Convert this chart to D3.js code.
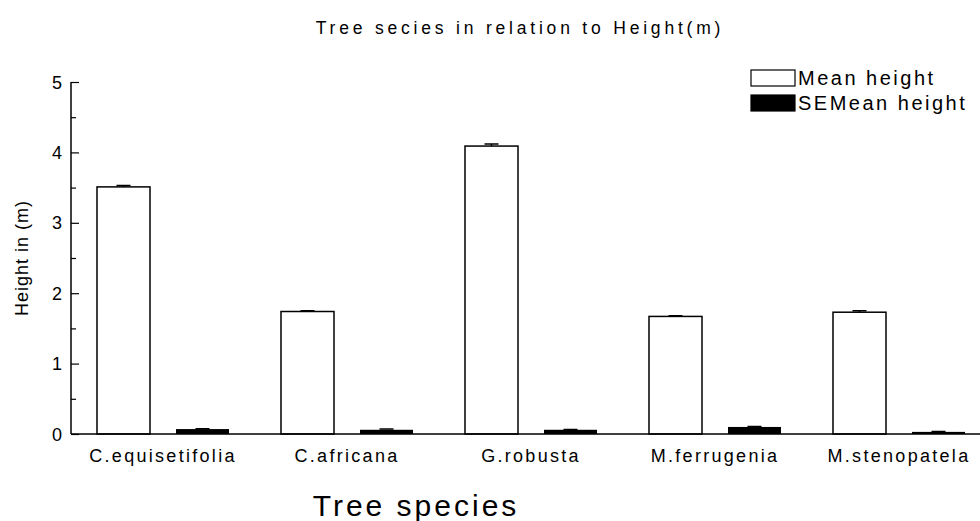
<!DOCTYPE html>
<html>
<head>
	<meta charset="UTF-8">
	<title>Tree species in relation to Height</title>
	<script src="https://cdnjs.cloudflare.com/ajax/libs/d3/7.8.5/d3.min.js"></script>
	<style>
		body { margin: 0; background: #fff; }
		text { font-family: "Liberation Sans", Arial, sans-serif; fill: #000; }
	</style>
</head>
<body>
	<script>
		// data
		var species = ["C.equisetifolia", "C.africana", "G.robusta", "M.ferrugenia", "M.stenopatela"];
		var meanHeight = [3.51, 1.74, 4.09, 1.67, 1.73];
		var seMean = [0.07, 0.06, 0.06, 0.10, 0.03];
		var meanErr = [0.02, 0.01, 0.03, 0.01, 0.02];
		var seErr = [0.005, 0.01, 0.005, 0.005, 0.005];
		var yTicks = [0, 1, 2, 3, 4, 5];
		var yMinor = [0.5, 1.5, 2.5, 3.5, 4.5];
		var series = ["Mean height", "SEMean height"];

		var W = 980, H = 521;
		var plotLeft = 71, plotTop = 82, plotBottom = 434;

		var svg = d3.select("body").append("svg")
			.attr("width", W)
			.attr("height", H);

		// scales: each group reads 26 | 53 | 26 | 53 | 26
		var x = d3.scaleBand().domain(species).range([plotLeft, plotLeft + 5 * 184]);
		var inner = d3.scaleBand().domain(series).range([0, x.bandwidth()])
			.paddingInner(26 / 79).paddingOuter(26 / 79);
		var y = d3.scaleLinear().domain([0, 5]).range([plotBottom, plotTop]);

		function errPath(cx, v, e) {
			var y0 = y(v), y1 = y(v + e);
			return "M" + cx + "," + y0 + "V" + y1 + "M" + (cx - 7) + "," + y1 + "H" + (cx + 7);
		}

		// title
		svg.append("text")
			.attr("x", 520).attr("y", 34)
			.attr("text-anchor", "middle")
			.style("font-size", "17.5px")
			.style("letter-spacing", "3.8px")
			.text("Tree secies in relation to Height(m)");

		// mean bars
		var g = svg.append("g");
		g.selectAll(".mean")
			.data(species)
			.enter().append("rect")
			.attr("class", "mean")
			.attr("x", function(d) { return x(d) + inner("Mean height"); })
			.attr("width", inner.bandwidth())
			.attr("y", function(d, i) { return y(meanHeight[i]); })
			.attr("height", function(d, i) { return plotBottom - y(meanHeight[i]); })
			.attr("fill", "#fff")
			.attr("stroke", "#000")
			.attr("stroke-width", 1.5);

		g.selectAll(".meanErr")
			.data(species)
			.enter().append("path")
			.attr("class", "meanErr")
			.attr("d", function(d, i) {
				return errPath(x(d) + inner("Mean height") + inner.bandwidth() / 2, meanHeight[i], meanErr[i]);
			})
			.attr("stroke", "#000")
			.attr("stroke-width", 1.5)
			.attr("fill", "none");

		// SE bars
		g.selectAll(".se")
			.data(species)
			.enter().append("rect")
			.attr("class", "se")
			.attr("x", function(d) { return x(d) + inner("SEMean height"); })
			.attr("width", inner.bandwidth())
			.attr("y", function(d, i) { return y(seMean[i]); })
			.attr("height", function(d, i) { return plotBottom - y(seMean[i]); })
			.attr("fill", "#000");

		g.selectAll(".seErr")
			.data(species)
			.enter().append("path")
			.attr("class", "seErr")
			.attr("d", function(d, i) {
				return errPath(x(d) + inner("SEMean height") + inner.bandwidth() / 2, seMean[i], seErr[i]);
			})
			.attr("stroke", "#000")
			.attr("stroke-width", 1.5)
			.attr("fill", "none");

		// y axis: major ticks inside, minor ticks at halves
		var yAxis = svg.append("g")
			.attr("transform", "translate(" + plotLeft + ",0)")
			.call(d3.axisRight(y).tickValues(yTicks).tickSize(8).tickFormat(""));
		yAxis.select(".domain").attr("stroke-width", 1.5).attr("d", "M0," + y(5) + "V" + y(0));
		yAxis.selectAll(".tick line").attr("stroke-width", 1.2);

		svg.append("g")
			.attr("transform", "translate(" + plotLeft + ",0)")
			.call(d3.axisRight(y).tickValues(yMinor).tickSize(5).tickFormat(""))
			.call(function(a) { a.select(".domain").remove(); })
			.selectAll(".tick line").attr("stroke-width", 1.2);

		svg.append("g").selectAll("text")
			.data(yTicks)
			.enter().append("text")
			.attr("x", plotLeft - 9)
			.attr("y", function(d) { return y(d) + 6.5; })
			.attr("text-anchor", "end")
			.style("font-size", "18px")
			.text(function(d) { return d; });

		// x axis line
		svg.append("line")
			.attr("x1", plotLeft).attr("x2", W)
			.attr("y1", plotBottom).attr("y2", plotBottom)
			.attr("stroke", "#000")
			.attr("stroke-width", 1.5);

		svg.append("g").selectAll("text")
			.data(species)
			.enter().append("text")
			.attr("x", function(d) { return x(d) + x.bandwidth() / 2; })
			.attr("y", 462)
			.attr("text-anchor", "middle")
			.style("font-size", "18px")
			.style("letter-spacing", "2.3px")
			.text(function(d) { return d; });

		// axis titles
		svg.append("text")
			.attr("transform", "translate(28,258) rotate(-90)")
			.attr("text-anchor", "middle")
			.style("font-size", "18px")
			.style("letter-spacing", "1px")
			.text("Height in (m)");

		svg.append("text")
			.attr("x", 416).attr("y", 516)
			.attr("text-anchor", "middle")
			.style("font-size", "30px")
			.style("letter-spacing", "3px")
			.text("Tree species");

		// legend
		var legend = svg.append("g").attr("transform", "translate(751,70)");
		legend.selectAll("rect")
			.data(series)
			.enter().append("rect")
			.attr("x", 0)
			.attr("y", function(d, i) { return i * 25; })
			.attr("width", 44).attr("height", 16)
			.attr("fill", function(d, i) { return i ? "#000" : "#fff"; })
			.attr("stroke", "#000")
			.attr("stroke-width", 1.2);
		legend.selectAll("text")
			.data(series)
			.enter().append("text")
			.attr("x", 47)
			.attr("y", function(d, i) { return i * 25 + 15; })
			.style("font-size", "20px")
			.style("letter-spacing", "2.5px")
			.text(function(d) { return d; });
	</script>
</body>
</html>
